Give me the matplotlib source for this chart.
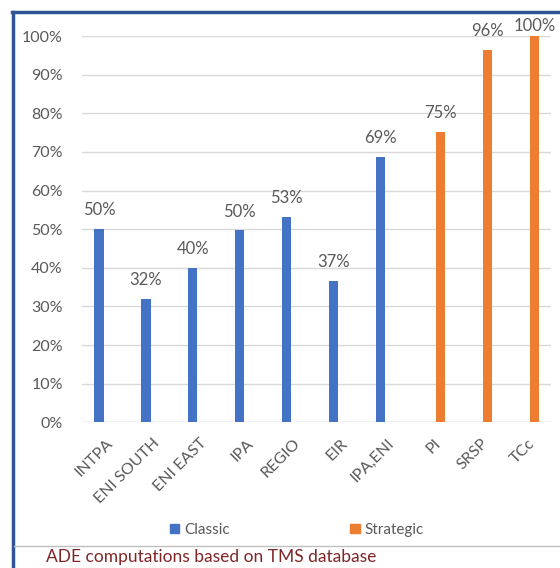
import matplotlib
matplotlib.use("Agg")
import matplotlib.pyplot as plt
from matplotlib.lines import Line2D
from matplotlib.patches import Patch
import numpy as np

plt.rcParams['font.family'] = ['Lato', 'DejaVu Sans']

categories = ['INTPA', 'ENI SOUTH', 'ENI EAST', 'IPA', 'REGIO', 'EIR', 'IPA,ENI', 'PI', 'SRSP', 'TCc']
classic = [0.50, 0.32, 0.40, 0.497, 0.531, 0.366, 0.687, None, None, None]
strategic = [None, None, None, None, None, None, None, 0.752, 0.965, 1.0]
series_names = ['Classic', 'Strategic']
caption = 'ADE computations based on TMS database'

blue = '#4472c4'
orange = '#ed7d31'
grey = '#595959'

fig = plt.figure(figsize=(5.6, 5.68), dpi=100)
ax = fig.add_axes([0.147, 0.2565, 0.837, 0.68])

x = np.arange(len(categories))
off = 0.143
w = 0.2

for vals, sign, col in [(classic, -1, blue), (strategic, 1, orange)]:
    for i, v in enumerate(vals):
        if v is None:
            continue
        ax.bar(x[i] + sign * off, v, width=w, color=col, zorder=3)
        # like Excel, keep the label inside the chart area
        ax.text(x[i] + sign * off, min(v + 0.028, 1.005), f'{v:.0%}', ha='center', va='bottom',
                fontsize=12, color=grey, clip_on=False)

ax.set_xlim(-0.5, len(categories) - 0.5)
ax.set_ylim(0, 1.0)
ax.set_yticks(np.arange(0, 1.01, 0.1))
ax.set_yticklabels([f'{t:.0%}' for t in np.arange(0, 1.01, 0.1)], fontsize=11.5, color=grey)
ax.yaxis.grid(True, color='#d9d9d9', linewidth=1, zorder=0)
ax.set_xticks(x)
ax.set_xticklabels(categories, rotation=45, ha='right', va='top', rotation_mode='anchor',
                   fontsize=11.5, color=grey)
ax.tick_params(axis='y', length=0, pad=14)
ax.tick_params(axis='x', length=0, pad=10)
for s in ax.spines.values():
    s.set_visible(False)
ax.axhline(0, color='#d9d9d9', linewidth=1, zorder=2)

handles = [Patch(color=blue), Patch(color=orange)]
fig.legend(handles, series_names, loc='center', bbox_to_anchor=(0.53, 0.067), ncol=2,
           frameon=False, fontsize=11, labelcolor=grey, handlelength=0.6, handleheight=0.6,
           handletextpad=0.35, columnspacing=7.9)

# outer frame
fig.add_artist(Line2D([0.023, 0.023], [0, 0.979], color='#2f5597', linewidth=2.5))
fig.add_artist(Line2D([0.021, 1.0], [0.979, 0.979], color='#2f5597', linewidth=2.5))
fig.add_artist(Line2D([0.025, 1.0], [1 - 546 / 568, 1 - 546 / 568], color='#bfbfbf', linewidth=1))

fig.text(46 / 560, 1 - 557 / 568, caption, ha='left', va='center', fontsize=12.5, color='#7f2626')

fig.savefig('out.png', dpi=100)
